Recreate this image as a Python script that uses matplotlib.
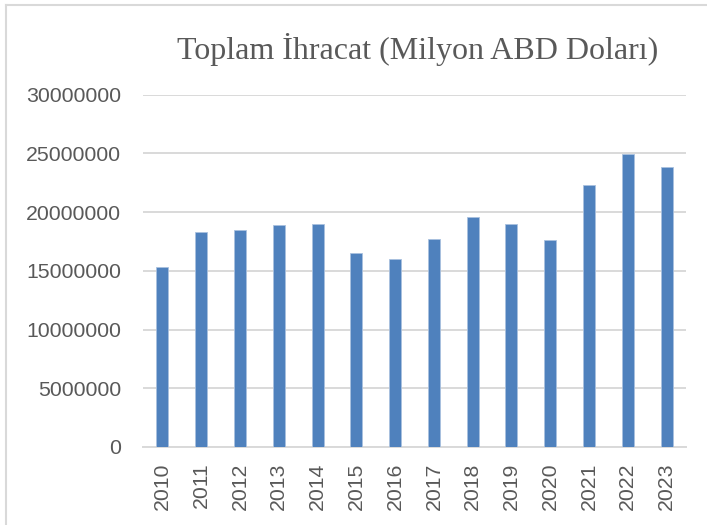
import matplotlib.pyplot as plt
from matplotlib.lines import Line2D

# Veriler
years = ["2010", "2011", "2012", "2013", "2014", "2015", "2016",
         "2017", "2018", "2019", "2020", "2021", "2022", "2023"]
exports = [15300000, 18310000, 18480000, 18940000, 19000000, 16520000, 16010000,
           17720000, 19560000, 19020000, 17660000, 22320000, 24960000, 23850000]
yticks = [0, 5000000, 10000000, 15000000, 20000000, 25000000, 30000000]

text_color = "#595959"
grid_color = "#d9d9d9"

fig = plt.figure(figsize=(7.07, 5.25), dpi=100)
ax = fig.add_axes([0.2023, 0.1486, 0.7680, 0.6710])

ax.bar(years, exports, width=0.31, color="#4f81bd", edgecolor="#a9c1df",
       linewidth=0.6, zorder=3)

ax.set_ylim(0, 30000000)
ax.set_xlim(-0.5, len(years) - 0.5)
ax.set_yticks(yticks)
ax.set_yticklabels([str(v) for v in yticks])
ax.grid(axis="y", color=grid_color, linewidth=1.4, zorder=0)

for s in ["top", "right", "left"]:
    ax.spines[s].set_visible(False)
ax.spines["bottom"].set_color(grid_color)
ax.spines["bottom"].set_linewidth(1.4)

ax.tick_params(axis="both", length=0, labelsize=15.3, labelcolor=text_color,
               labelfontfamily="Liberation Sans")
ax.tick_params(axis="y", pad=16)
ax.tick_params(axis="x", pad=11)
plt.setp(ax.get_xticklabels(), rotation=90)

fig.text(0.591, 0.905, "Toplam İhracat (Milyon ABD Doları)", ha="center",
         va="center", fontsize=23, color=text_color, family="Liberation Serif")

# Grafik alanı çerçevesi (üst ve sol)
fig.add_artist(Line2D([6 / 707, 1], [1 - 5 / 525, 1 - 5 / 525],
                      color=grid_color, linewidth=1.5))
fig.add_artist(Line2D([6 / 707, 6 / 707], [0, 1 - 5 / 525],
                      color=grid_color, linewidth=1.5))

fig.savefig("out.png", dpi=100)
